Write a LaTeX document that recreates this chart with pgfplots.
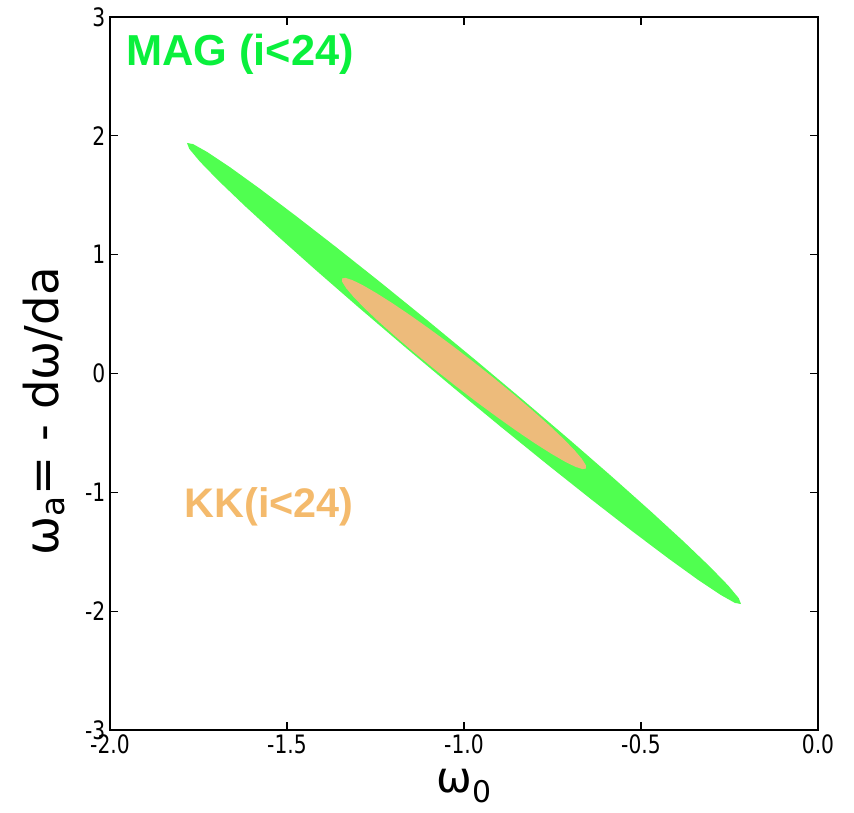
\documentclass[border=0pt]{standalone}
\usepackage{fontspec}
\setmainfont{DejaVu Sans}
\newfontfamily\tickfont[FakeStretch=0.8]{DejaVu Sans}
\newfontfamily\txtfont{Liberation Sans}
\usepackage{pgfplots}
\pgfplotsset{compat=1.18}
\definecolor{ellgreen}{RGB}{80,255,80}
\definecolor{ellorange}{RGB}{237,187,123}
\definecolor{maggreen}{RGB}{10,240,60}
\definecolor{kkorange}{RGB}{244,186,108}
\begin{document}
\begin{tikzpicture}
\path[use as bounding box] (-82.5pt,-62.25pt) rectangle (558pt,547.5pt);
\begin{axis}[
  at={(0pt,0pt)}, anchor=south west,
  scale only axis, width=531pt, height=534.75pt,
  xmin=-2, xmax=0, ymin=-3, ymax=3,
  xtick={-2,-1.5,-1,-0.5,0}, ytick={-3,-2,-1,0,1,2,3},
  tick align=inside, tick pos=both, major tick length=6pt,
  axis line style={line width=1.1pt},
  every tick/.style={black, line width=0.8pt},
  /pgf/number format/assume math mode=true,
  ticklabel style={font=\tickfont\fontsize{19}{22}\selectfont},
  xticklabel style={/pgf/number format/.cd,fixed,fixed zerofill,precision=1},
  yticklabel style={/pgf/number format/.cd,fixed,precision=0},
  xlabel={ω\textsubscript{0}},
  xlabel style={font=\fontsize{32}{34}\selectfont, at={(axis description cs:0.5,-0.087)}, anchor=base},
  ylabel={ω\textsubscript{a}= - dω/da},
  ylabel style={font=\fontsize{35}{38}\selectfont, at={(axis description cs:-0.0734,0.447)}, anchor=base},
]
\addplot[fill=ellgreen, draw=none] coordinates {
(-1.7825,1.9400) (-1.7651,1.9304) (-1.7244,1.8622) (-1.6616,1.7373) (-1.5789,1.5596)
(-1.4786,1.3347) (-1.3637,1.0692) (-1.2376,0.7711) (-1.1044,0.4496) (-0.9681,0.1145)
(-0.8328,-0.2240) (-0.7024,-0.5559) (-0.5811,-0.8708) (-0.4726,-1.1593) (-0.3801,-1.4124)
(-0.3064,-1.6227) (-0.2538,-1.7838) (-0.2239,-1.8906) (-0.2175,-1.9400) (-0.2349,-1.9304)
(-0.2756,-1.8622) (-0.3384,-1.7373) (-0.4211,-1.5596) (-0.5214,-1.3347) (-0.6363,-1.0692)
(-0.7624,-0.7711) (-0.8956,-0.4496) (-1.0319,-0.1145) (-1.1672,0.2240) (-1.2976,0.5559)
(-1.4189,0.8708) (-1.5274,1.1593) (-1.6199,1.4124) (-1.6936,1.6227) (-1.7462,1.7838)
(-1.7761,1.8906) (-1.7825,1.9400)
};
\addplot[fill=ellorange, draw=none] coordinates {
(-1.3446,0.7997) (-1.3349,0.8047) (-1.3149,0.7855) (-1.2854,0.7422) (-1.2473,0.6764)
(-1.2016,0.5901) (-1.1498,0.4859) (-1.0935,0.3668) (-1.0342,0.2366) (-0.9740,0.0993)
(-0.9146,-0.0410) (-0.8577,-0.1802) (-0.8052,-0.3139) (-0.7586,-0.4379) (-0.7193,-0.5488)
(-0.6886,-0.6428) (-0.6673,-0.7175) (-0.6561,-0.7703) (-0.6554,-0.7997) (-0.6651,-0.8047)
(-0.6851,-0.7855) (-0.7146,-0.7422) (-0.7527,-0.6764) (-0.7984,-0.5901) (-0.8502,-0.4859)
(-0.9065,-0.3668) (-0.9658,-0.2366) (-1.0260,-0.0993) (-1.0854,0.0410) (-1.1423,0.1802)
(-1.1948,0.3139) (-1.2414,0.4379) (-1.2807,0.5488) (-1.3114,0.6428) (-1.3327,0.7175)
(-1.3439,0.7703) (-1.3446,0.7997)
};
\node[anchor=base west, text=maggreen, font=\txtfont\bfseries\fontsize{32.5}{36}\selectfont, inner sep=0pt] at (axis cs:-1.955,2.596) {MAG (i<24)};
\node[anchor=base west, text=kkorange, font=\txtfont\bfseries\fontsize{31}{34}\selectfont, inner sep=0pt] at (axis cs:-1.79,-1.209) {KK(i<24)};
\end{axis}
\end{tikzpicture}
\end{document}
